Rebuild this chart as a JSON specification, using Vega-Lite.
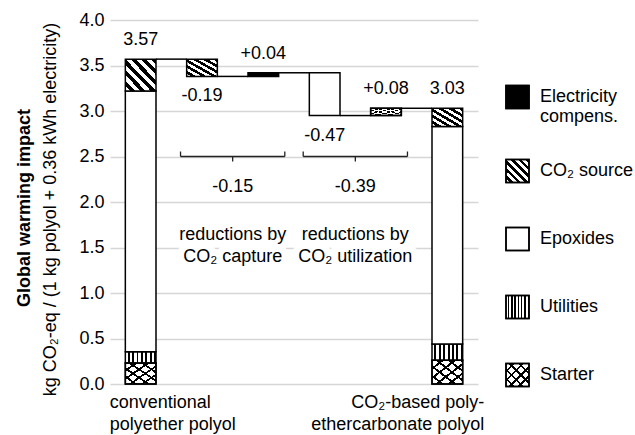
{
  "$schema": "https://vega.github.io/schema/vega-lite/v6.json",
  "width": 368,
  "height": 364,
  "autosize": "none",
  "padding": {"left": 110, "top": 20, "right": 157, "bottom": 51},
  "background": "white",
  "config": {"font": "Liberation Sans", "view": {"stroke": null}},
  "title": {"text": "Global warming impact", "orient": "left", "fontSize": 18, "fontWeight": "bold", "font": "Liberation Sans", "color": "black", "offset": 8, "anchor": "middle", "dx": -6},
  "datasets": {
    "bars": [
      {"step": "A", "comp": "Starter", "lo": 0, "hi": 0.23},
      {"step": "A", "comp": "Utilities", "lo": 0.23, "hi": 0.355},
      {"step": "A", "comp": "Epoxides", "lo": 0.355, "hi": 3.22},
      {"step": "A", "comp": "CO₂ source", "lo": 3.22, "hi": 3.57},
      {"step": "B", "comp": "CO₂ source", "lo": 3.38, "hi": 3.57},
      {"step": "C", "comp": "Electricity compens.", "lo": 3.38, "hi": 3.42},
      {"step": "D", "comp": "Epoxides", "lo": 2.95, "hi": 3.42},
      {"step": "E", "comp": "Starter", "lo": 2.95, "hi": 3.03},
      {"step": "F", "comp": "Starter", "lo": 0, "hi": 0.26},
      {"step": "F", "comp": "Utilities", "lo": 0.26, "hi": 0.44},
      {"step": "F", "comp": "Epoxides", "lo": 0.44, "hi": 2.83},
      {"step": "F", "comp": "CO₂ source", "lo": 2.83, "hi": 3.03}
    ],
    "conn": [
      {"step": "A", "y": 3.57},
      {"step": "B", "y": 3.38},
      {"step": "C", "y": 3.42},
      {"step": "D", "y": 2.95},
      {"step": "E", "y": 3.03}
    ],
    "labels": [
      {"step": "A", "text": "3.57", "val": 3.57, "side": "above"},
      {"step": "B", "text": "-0.19", "val": 3.38, "side": "below"},
      {"step": "C", "text": "+0.04", "val": 3.42, "side": "above"},
      {"step": "D", "text": "-0.47", "val": 2.95, "side": "below"},
      {"step": "E", "text": "+0.08", "val": 3.03, "side": "above"},
      {"step": "F", "text": "3.03", "val": 3.03, "side": "above"}
    ],
    "brackets": [
      {"step": "B", "y": 2.5, "text": "-0.15", "note": "reductions by\nCO₂ capture"},
      {"step": "D", "y": 2.5, "text": "-0.39", "note": "reductions by\nCO₂ utilization"}
    ]
  },
  "resolve": {"scale": {"fill": "independent"}, "legend": {"fill": "independent"}},
  "layer": [
    {
      "data": {"name": "brackets"},
      "mark": {"type": "text", "fontSize": 18, "color": "white", "stroke": "white", "strokeWidth": 14, "baseline": "middle", "dy": 78, "lineBreak": "\n", "lineHeight": 22},
      "encoding": {
        "x": {"field": "step", "type": "nominal", "bandPosition": 1.5,
          "scale": {"domain": ["A", "B", "C", "D", "E", "F"], "paddingInner": 0.5, "paddingOuter": 0.25},
          "axis": {"title": null, "domain": false, "ticks": false, "labelAngle": 0, "labelFontSize": 18, "labelColor": "black", "labelPadding": 9, "labelLineHeight": 22, "labelBaseline": "top", "labelBound": false, "labelOverlap": false, "labelFlush": false, "labelLimit": 300,
            "labelExpr": "datum.value == 'A' ? ['conventional','polyether polyol'] : datum.value == 'F' ? ['CO₂-based poly-','ethercarbonate polyol'] : ''",
            "labelAlign": {"condition": {"test": "datum.value == 'A'", "value": "left"}, "value": "right"},
            "labelOffset": {"condition": {"test": "datum.value == 'A'", "value": -31}, "value": 37}}},
        "y": {"field": "y", "type": "quantitative",
          "scale": {"domain": [0, 4], "nice": false},
          "axis": {"values": [0, 0.5, 1, 1.5, 2, 2.5, 3, 3.5, 4], "format": ".1f", "domain": false, "ticks": false, "labelFontSize": 18, "labelColor": "black", "labelPadding": 6, "gridColor": "#d6d6d6", "gridWidth": 1.3,
            "title": "kg CO₂-eq / (1 kg polyol + 0.36 kWh electricity)", "titleFontSize": 18, "titleFontWeight": "normal", "titleColor": "black", "titlePadding": 19, "titleY": 189}},
        "text": {"field": "note"}
      }
    },
    {
      "data": {"name": "bars"},
      "mark": {"type": "bar", "stroke": "black", "strokeWidth": 1.5},
      "encoding": {
        "x": {"field": "step", "type": "nominal"},
        "y": {"field": "lo", "type": "quantitative"},
        "y2": {"field": "hi"},
        "fill": {"field": "comp", "type": "nominal",
          "scale": {"domain": ["Electricity compens.", "CO₂ source", "Epoxides", "Utilities", "Starter"],
            "range": [
              "black",
              {"expr": "{gradient:'linear',x1:0,y1:1,x2:1,y2:0,stops:[{offset:0,color:'white'},{offset:0.0833,color:'white'},{offset:0.0833,color:'black'},{offset:0.1667,color:'black'},{offset:0.1667,color:'white'},{offset:0.25,color:'white'},{offset:0.25,color:'black'},{offset:0.3333,color:'black'},{offset:0.3333,color:'white'},{offset:0.4167,color:'white'},{offset:0.4167,color:'black'},{offset:0.5,color:'black'},{offset:0.5,color:'white'},{offset:0.5833,color:'white'},{offset:0.5833,color:'black'},{offset:0.6667,color:'black'},{offset:0.6667,color:'white'},{offset:0.75,color:'white'},{offset:0.75,color:'black'},{offset:0.8333,color:'black'},{offset:0.8333,color:'white'},{offset:0.9167,color:'white'},{offset:0.9167,color:'black'},{offset:1,color:'black'}]}"},
              "white",
              {"expr": "{gradient:'linear',x1:0,y1:0,x2:1,y2:0,stops:[{offset:0,color:'white'},{offset:0.08,color:'white'},{offset:0.08,color:'black'},{offset:0.1429,color:'black'},{offset:0.1429,color:'white'},{offset:0.2229,color:'white'},{offset:0.2229,color:'black'},{offset:0.2857,color:'black'},{offset:0.2857,color:'white'},{offset:0.3657,color:'white'},{offset:0.3657,color:'black'},{offset:0.4286,color:'black'},{offset:0.4286,color:'white'},{offset:0.5086,color:'white'},{offset:0.5086,color:'black'},{offset:0.5714,color:'black'},{offset:0.5714,color:'white'},{offset:0.6514,color:'white'},{offset:0.6514,color:'black'},{offset:0.7143,color:'black'},{offset:0.7143,color:'white'},{offset:0.7943,color:'white'},{offset:0.7943,color:'black'},{offset:0.8571,color:'black'},{offset:0.8571,color:'white'},{offset:0.9371,color:'white'},{offset:0.9371,color:'black'},{offset:1,color:'black'}]}"},
              {"expr": "{gradient:'linear',x1:0,y1:0,x2:1,y2:1,stops:[{offset:0,color:'white'},{offset:0.15,color:'white'},{offset:0.15,color:'black'},{offset:0.2,color:'black'},{offset:0.2,color:'white'},{offset:0.35,color:'white'},{offset:0.35,color:'black'},{offset:0.4,color:'black'},{offset:0.4,color:'white'},{offset:0.55,color:'white'},{offset:0.55,color:'black'},{offset:0.6,color:'black'},{offset:0.6,color:'white'},{offset:0.75,color:'white'},{offset:0.75,color:'black'},{offset:0.8,color:'black'},{offset:0.8,color:'white'},{offset:0.95,color:'white'},{offset:0.95,color:'black'},{offset:1,color:'black'}]}"}
            ]},
          "legend": {"orient": "none", "legendX": 395, "legendY": 54, "title": null, "padding": 0, "symbolType": "square", "symbolSize": 529, "symbolStrokeColor": "black", "symbolStrokeWidth": 1.5, "labelFontSize": 18, "labelColor": "black", "labelOffset": 10, "rowPadding": 22, "clipHeight": 46, "labelLimit": 200,
            "labelExpr": "datum.label == 'Electricity compens.' ? ['Electricity','compens.'] : datum.label"}}
      }
    },
    {
      "data": {"name": "bars"},
      "transform": [{"filter": "datum.comp === 'Starter'"}],
      "mark": {"type": "bar", "stroke": "black", "strokeWidth": 1.5},
      "encoding": {
        "x": {"field": "step", "type": "nominal"},
        "y": {"field": "lo", "type": "quantitative"},
        "y2": {"field": "hi"},
        "fill": {"field": "comp", "type": "nominal",
          "scale": {"domain": ["Electricity compens.", "CO₂ source", "Epoxides", "Utilities", "Starter"],
            "range": [
              "transparent", "transparent", "transparent", "transparent",
              {"expr": "{gradient:'linear',x1:0,y1:1,x2:1,y2:0,stops:[{offset:0,color:'transparent'},{offset:0.15,color:'transparent'},{offset:0.15,color:'black'},{offset:0.2,color:'black'},{offset:0.2,color:'transparent'},{offset:0.35,color:'transparent'},{offset:0.35,color:'black'},{offset:0.4,color:'black'},{offset:0.4,color:'transparent'},{offset:0.55,color:'transparent'},{offset:0.55,color:'black'},{offset:0.6,color:'black'},{offset:0.6,color:'transparent'},{offset:0.75,color:'transparent'},{offset:0.75,color:'black'},{offset:0.8,color:'black'},{offset:0.8,color:'transparent'},{offset:0.95,color:'transparent'},{offset:0.95,color:'black'},{offset:1,color:'black'}]}"}
            ]},
          "legend": {"orient": "none", "legendX": 395, "legendY": 54, "title": null, "padding": 0, "symbolType": "square", "symbolSize": 529, "symbolStrokeColor": "black", "symbolStrokeWidth": 1.5, "labelFontSize": 18, "labelColor": "black", "labelOpacity": 0, "labelOffset": 10, "rowPadding": 22, "clipHeight": 46, "labelLimit": 200,
            "labelExpr": "datum.label == 'Electricity compens.' ? ['Electricity','compens.'] : datum.label"}}
      }
    },
    {
      "data": {"name": "conn"},
      "mark": {"type": "rule", "color": "black", "strokeWidth": 1.5},
      "encoding": {
        "x": {"field": "step", "type": "nominal", "bandPosition": 1},
        "x2": {"field": "step", "bandPosition": 2},
        "y": {"field": "y", "type": "quantitative"}
      }
    },
    {
      "data": {"name": "labels"},
      "transform": [{"filter": "datum.side === 'above'"}],
      "mark": {"type": "text", "fontSize": 18, "color": "black", "baseline": "middle", "dy": -19},
      "encoding": {
        "x": {"field": "step", "type": "nominal"},
        "y": {"field": "val", "type": "quantitative"},
        "text": {"field": "text"}
      }
    },
    {
      "data": {"name": "labels"},
      "transform": [{"filter": "datum.side === 'below'"}],
      "mark": {"type": "text", "fontSize": 18, "color": "black", "baseline": "middle", "dy": 20},
      "encoding": {
        "x": {"field": "step", "type": "nominal"},
        "y": {"field": "val", "type": "quantitative"},
        "text": {"field": "text"}
      }
    },
    {
      "data": {"name": "brackets"},
      "mark": {"type": "rule", "color": "#222", "strokeWidth": 1.3},
      "encoding": {
        "x": {"field": "step", "type": "nominal", "bandPosition": -0.2},
        "x2": {"field": "step", "bandPosition": 3.2},
        "y": {"field": "y", "type": "quantitative"}
      }
    },
    {
      "data": {"name": "brackets"},
      "mark": {"type": "rule", "color": "#222", "strokeWidth": 1.3, "y2Offset": -5},
      "encoding": {
        "x": {"field": "step", "type": "nominal", "bandPosition": -0.2},
        "y": {"field": "y", "type": "quantitative"},
        "y2": {"field": "y"}
      }
    },
    {
      "data": {"name": "brackets"},
      "mark": {"type": "rule", "color": "#222", "strokeWidth": 1.3, "y2Offset": -5},
      "encoding": {
        "x": {"field": "step", "type": "nominal", "bandPosition": 3.2},
        "y": {"field": "y", "type": "quantitative"},
        "y2": {"field": "y"}
      }
    },
    {
      "data": {"name": "brackets"},
      "mark": {"type": "rule", "color": "#222", "strokeWidth": 1.3, "y2Offset": 5},
      "encoding": {
        "x": {"field": "step", "type": "nominal", "bandPosition": 1.5},
        "y": {"field": "y", "type": "quantitative"},
        "y2": {"field": "y"}
      }
    },
    {
      "data": {"name": "brackets"},
      "mark": {"type": "text", "fontSize": 18, "color": "black", "baseline": "middle", "dy": 30},
      "encoding": {
        "x": {"field": "step", "type": "nominal", "bandPosition": 1.5},
        "y": {"field": "y", "type": "quantitative"},
        "text": {"field": "text"}
      }
    },
    {
      "data": {"name": "brackets"},
      "mark": {"type": "text", "fontSize": 18, "color": "black", "baseline": "middle", "dy": 78, "lineBreak": "\n", "lineHeight": 22},
      "encoding": {
        "x": {"field": "step", "type": "nominal", "bandPosition": 1.5},
        "y": {"field": "y", "type": "quantitative"},
        "text": {"field": "note"}
      }
    }
  ]
}
